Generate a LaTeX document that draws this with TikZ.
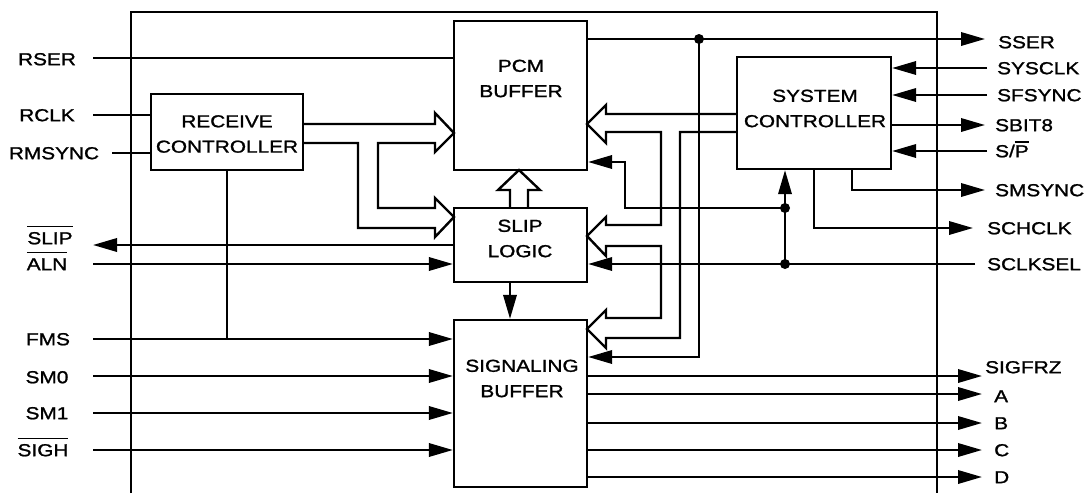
\documentclass[tikz,border=0pt]{standalone}
\usepackage{fontspec}
\setmainfont{Liberation Sans}[FakeStretch=1.2,FakeBold=1.3]
\usetikzlibrary{arrows.meta,fit}
\newcommand\ovl[2][12.6pt]{\setbox0\hbox{#2}\rlap{\rule[#1]{\wd0}{1.3pt}}\box0}
\begin{document}
\begin{tikzpicture}[x=0.75pt,y=-0.75pt,
  line width=1.8pt, line join=miter,
  >={Triangle[length=18pt,width=10pt]},
  box/.style={draw,line width=1.7pt,inner sep=0pt},
  txt/.style={font=\fontsize{13pt}{19pt}\selectfont,align=center,inner sep=0pt},
  pin/.style={font=\fontsize{13pt}{15pt}\selectfont,inner sep=0pt,text height=9.3pt,text depth=0pt},
  pinr/.style={pin,anchor=west},
  dot/.style={circle,fill,inner sep=0pt,minimum size=7.5pt},
]
\useasboundingbox (0,0) rectangle (1086,493);
% frame
\draw[line width=1.6pt] (131,493) -- (131,12) -- (937,12) -- (937,493);
% blocks
\node[box,fit={(151,94)(303,170)}] (rc) {};
\node[box,fit={(454,21)(587,170)}] (pcm) {};
\node[box,fit={(454,208)(587,282)}] (slip) {};
\node[box,fit={(454,320)(587,487)}] (sig) {};
\node[box,fit={(737,57)(891,169)}] (sys) {};
\node[txt] (rct) at (227,134) {RECEIVE\\CONTROLLER};
\node[txt] (pcmt) at (521,78.5) {PCM\\BUFFER};
\node[txt] (slipt) at (520,238.5) {SLIP\\LOGIC};
\node[txt] (sigt) at (522,378.5) {SIGNALING\\BUFFER};
\node[txt] (syst) at (815,108.5) {SYSTEM\\CONTROLLER};
% left labels
\node[pin] (lRSER) at (47,59) {RSER};
\node[pin] (lRCLK) at (47,115) {RCLK};
\node[pin] (lRMS) at (54,153) {RMSYNC};
\node[pin] (lSLIP) at (50,238) {\ovl{SLIP}};
\node[pin] (lALN) at (47,264) {\ovl{ALN}};
\node[pin] (lFMS) at (48,339) {FMS};
\node[pin] (lSM0) at (47,377) {SM0};
\node[pin] (lSM1) at (47,413) {SM1};
\node[pin] (lSIGH) at (43,450) {\ovl{SIGH}};
% right labels
\node[pinr] (rSSER) at (997,42) {SSER};
\node[pinr] (rSYSCLK) at (996,68) {SYSCLK};
\node[pinr] (rSFSYNC) at (996,95) {SFSYNC};
\node[pinr] (rSBIT8) at (994,125) {SBIT8};
\node[pinr] (rSP) at (994,151) {S/\ovl[10.8pt]{P}};
\node[pinr] (rSMSYNC) at (994,190) {SMSYNC};
\node[pinr] (rSCHCLK) at (986,228) {SCHCLK};
\node[pinr] (rSCLKSEL) at (986,264) {SCLKSEL};
\node[pinr] (rSIGFRZ) at (984,367) {SIGFRZ};
\node[pinr] (rA) at (993,396) {A};
\node[pinr] (rB) at (993,423) {B};
\node[pinr] (rC) at (993,450) {C};
\node[pinr] (rD) at (993,477) {D};
% pin end coordinates
\coordinate (pRSER) at (93,58);
\coordinate (pRCLK) at (93,115);
\coordinate (pRMS) at (112,153);
\coordinate (pSLIP) at (93,245);
\coordinate (pALN) at (93,264);
\coordinate (pFMS) at (93,339);
\coordinate (pSM0) at (93,376);
\coordinate (pSM1) at (93,413);
\coordinate (pSIGH) at (93,450);
\coordinate (jFMS) at (227,339);
\coordinate (pSSER) at (985,39);
\coordinate (pSYSCLK) at (987,68);
\coordinate (pSFSYNC) at (987,95);
\coordinate (pSBIT8) at (985,125);
\coordinate (pSP) at (987,151);
\coordinate (kSMS) at (852,190);
\coordinate (pSMS) at (985,190);
\coordinate (kSCH) at (814,228);
\coordinate (pSCH) at (973,228);
\coordinate (pSCL) at (975,264);
\coordinate (c357) at (699,357);
\coordinate (k625) at (625,162);
\coordinate (k510) at (510,300);
\coordinate (pSIGFRZ) at (982,376);
\coordinate (pA) at (982,394);
\coordinate (pB) at (982,423);
\coordinate (pC) at (982,450);
\coordinate (pD) at (982,477);
\node[dot] (d1) at (699,39) {};
\node[dot] (d2) at (785,264) {};
\node[dot] (d3) at (785,208) {};
% left connectors
\draw (pRSER) -- (pcm.west |- pRSER);
\draw (pRCLK) -- (rc.west |- pRCLK);
\draw (pRMS) -- (rc.west |- pRMS);
\draw[->] (slip.west |- pSLIP) -- (pSLIP);
\draw[->] (pALN) -- (slip.west |- pALN);
\draw[->] (pFMS) -- (sig.west |- pFMS);
\draw (rc.south -| jFMS) -- (jFMS);
\draw[->] (pSM0) -- (sig.west |- pSM0);
\draw[->] (pSM1) -- (sig.west |- pSM1);
\draw[->] (pSIGH) -- (sig.west |- pSIGH);
% right connectors
\draw[->] (pcm.east |- pSSER) -- (pSSER);
\draw[->] (d1.center) -- (c357) -- (sig.east |- c357);
\draw[->] (pSYSCLK) -- (sys.east |- pSYSCLK);
\draw[->] (pSFSYNC) -- (sys.east |- pSFSYNC);
\draw[->] (sys.east |- pSBIT8) -- (pSBIT8);
\draw[->] (pSP) -- (sys.east |- pSP);
\draw[->] (sys.south -| kSMS) -- (kSMS) -- (pSMS);
\draw[->] (sys.south -| kSCH) -- (kSCH) -- (pSCH);
\draw[->] (pSCL) -- (slip.east |- pSCL);
\draw[->] (d2.center) -- (sys.south -| d2);
\draw[->] (d3.center) -- (d3 -| k625) -- (k625) -- (pcm.east |- k625);
\draw[->] (slip.south -| k510) -- (sig.north -| k510);
\draw[->] (sig.east |- pSIGFRZ) -- (pSIGFRZ);
\draw[->] (sig.east |- pA) -- (pA);
\draw[->] (sig.east |- pB) -- (pB);
\draw[->] (sig.east |- pC) -- (pC);
\draw[->] (sig.east |- pD) -- (pD);
% hollow bus from receive controller
\draw (rc.east |- 0,124) -- (435,124) -- (435,113) -- (454,133) -- (435,152) -- (435,143)
  -- (378,143) -- (378,208) -- (435,208) -- (435,198) -- (454,217) -- (435,237) -- (435,228)
  -- (358,228) -- (358,143) -- (rc.east |- 0,143);
% hollow bus from system controller
\draw (sys.west |- 0,114) -- (606,114) -- (606,105) -- (587,124) -- (606,143) -- (606,132)
  -- (661,132) -- (661,225) -- (606,225) -- (606,217) -- (587,236) -- (606,256) -- (606,246)
  -- (661,246) -- (661,318) -- (606,318) -- (606,310) -- (587,329) -- (606,348) -- (606,338)
  -- (680,338) -- (680,132) -- (sys.west |- 0,132);
% hollow arrow slip -> pcm
\draw (slip.north -| 510,0) -- (510,190) -- (498,190) -- (519,170) -- (540,190) -- (528,190) -- (slip.north -| 528,0);
\end{tikzpicture}
\end{document}
